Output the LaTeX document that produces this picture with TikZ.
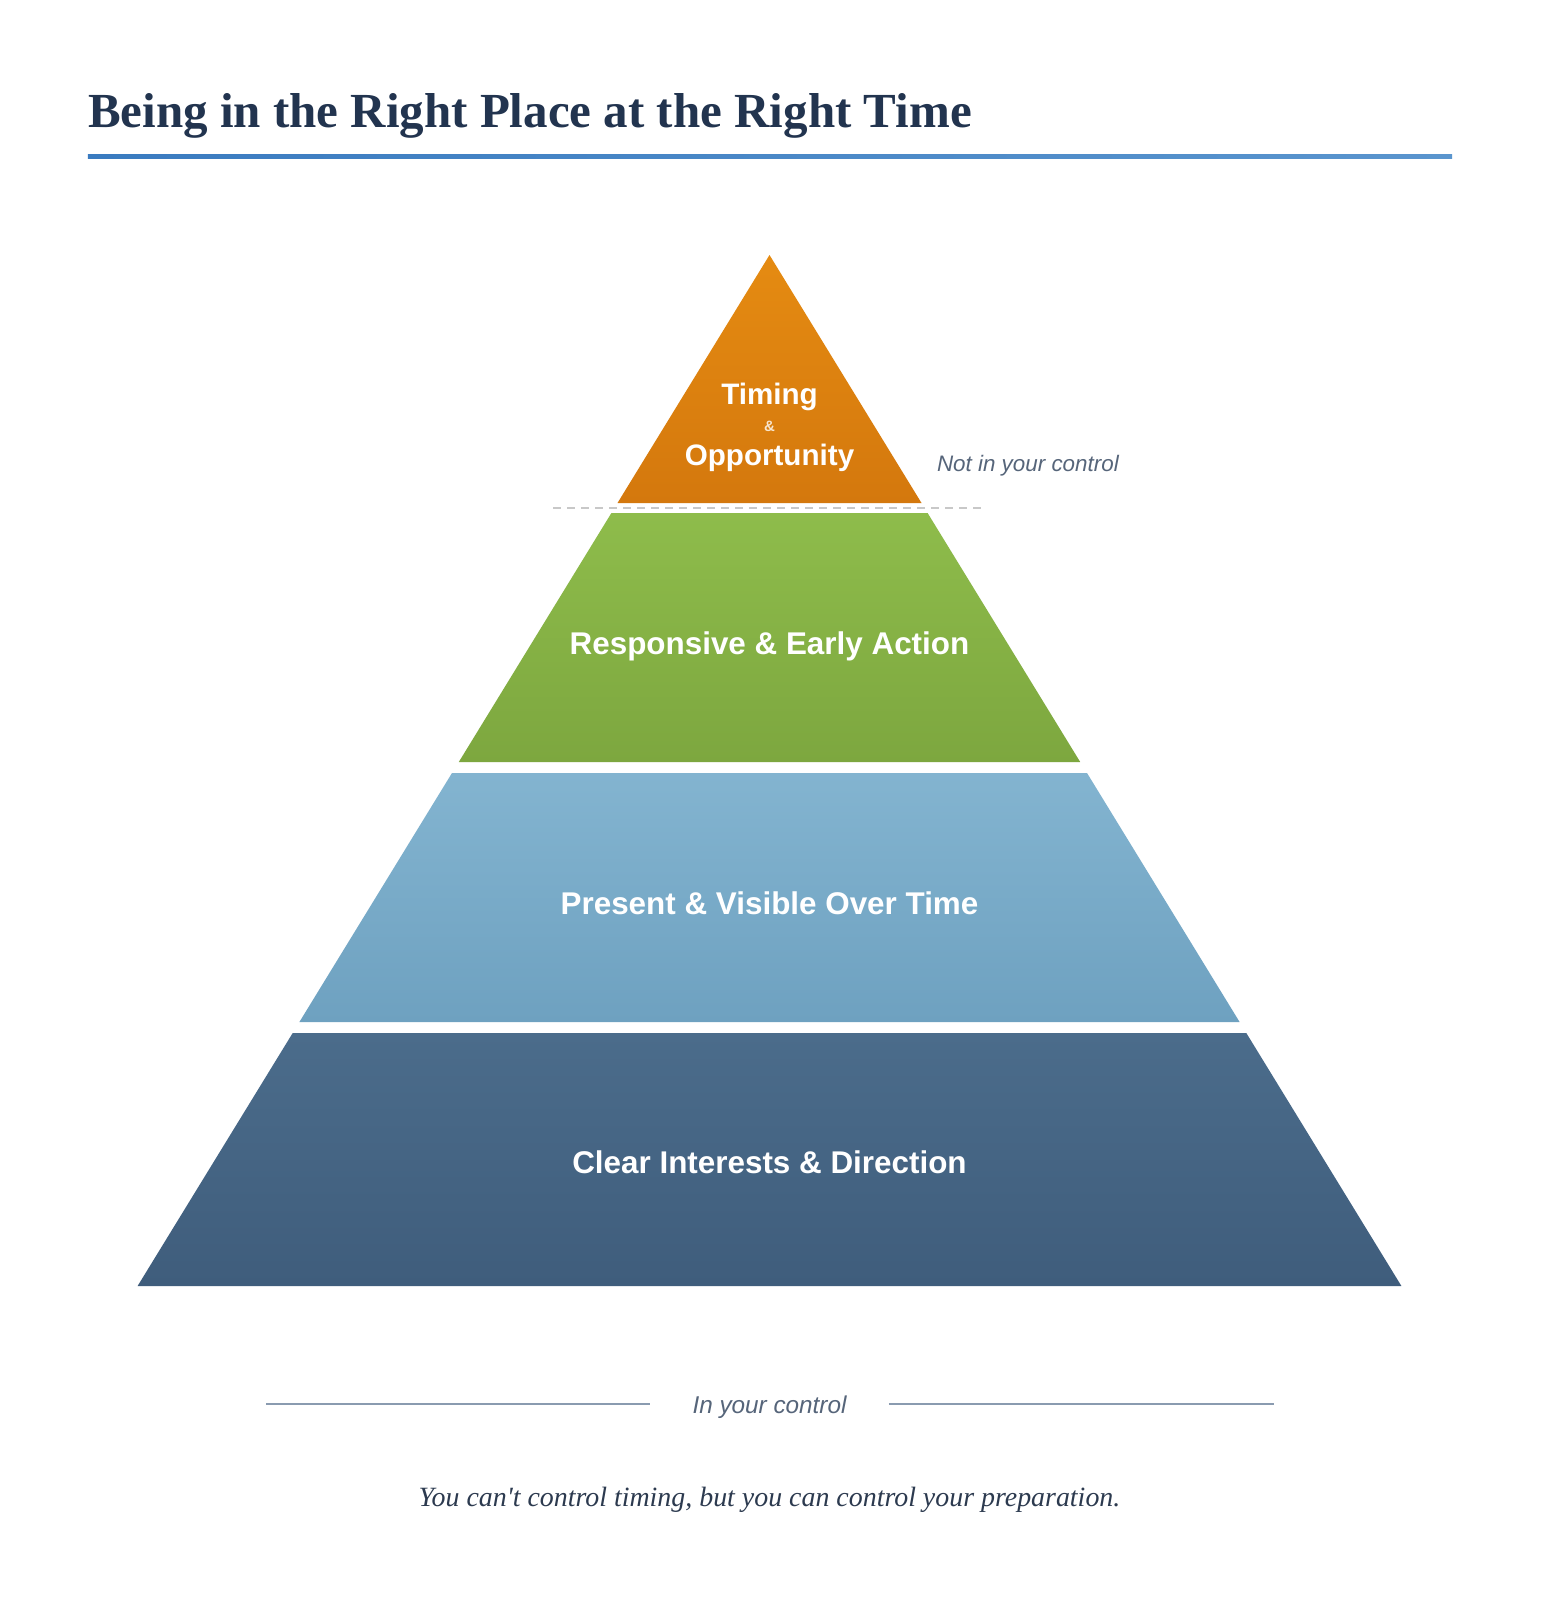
\documentclass[tikz,border=0pt]{standalone}
\usepackage{fontspec}
\setmainfont{Liberation Serif}
\newfontfamily\lsans{Liberation Sans}
\newfontfamily\qfont{Liberation Serif}[Ligatures=TeXOff]
\usetikzlibrary{calc}
\definecolor{titlecol}{HTML}{22344F}
\definecolor{ruleL}{HTML}{3A7BC0}
\definecolor{ruleR}{HTML}{5A95CE}
\definecolor{orT}{HTML}{E58B12}
\definecolor{orB}{HTML}{D4780D}
\definecolor{grT}{HTML}{8EBC4B}
\definecolor{grB}{HTML}{7DA73F}
\definecolor{lbT}{HTML}{83B4D0}
\definecolor{lbB}{HTML}{6EA1C0}
\definecolor{dbT}{HTML}{4B6C8B}
\definecolor{dbB}{HTML}{3F5D7C}
\definecolor{notecol}{HTML}{56657A}
\definecolor{sepcol}{HTML}{8A9BB0}
\definecolor{quotecol}{HTML}{2C3A4F}
\definecolor{dashcol}{HTML}{C8C8C8}
\tikzset{
  lvltext/.style={text=white, font=\lsans\bfseries\fontsize{31.4}{36}\selectfont, anchor=base, inner sep=0pt},
  toptext/.style={text=white, font=\lsans\bfseries\fontsize{29.6}{34}\selectfont, anchor=base, inner sep=0pt},
  note/.style={text=notecol, font=\lsans\itshape\fontsize{22.4}{26}\selectfont, inner sep=0pt},
}
\begin{document}
\begin{tikzpicture}[x=1pt,y=-1pt]
\useasboundingbox (0,0) rectangle (1540,1600);
\fill[white] (0,0) rectangle (1540,1600);
% title
\node[anchor=base west, inner sep=0pt, text=titlecol, font=\bfseries\fontsize{49}{56}\selectfont] (title) at (87.8,127.6) {Being in the Right Place at the Right Time};
\shade[left color=ruleL, right color=ruleR] (87.8,154.1) rectangle (1452.2,158.1);
% pyramid layers
\shade[top color=orT, bottom color=orB] (769.5,255) -- (921.5,503) -- (617.5,503) -- cycle;
\shade[top color=grT, bottom color=grB] (611.4,513) -- (927.6,513) -- (1080.2,762) -- (458.8,762) -- cycle;
\shade[top color=lbT, bottom color=lbB] (452.0,773) -- (1087.0,773) -- (1239.6,1022) -- (299.4,1022) -- cycle;
\shade[top color=dbT, bottom color=dbB] (292.7,1033) -- (1246.3,1033) -- (1401.4,1286) -- (137.6,1286) -- cycle;
% dashed separator
\coordinate (dashL) at (553,507.8);
\coordinate (dashR) at (982,507.8);
\draw[dashcol, line width=1.5pt, dash pattern=on 8pt off 6pt] (dashL) -- (dashR);
% texts
\node[toptext] (tim) at (769.5,404) {Timing};
\node[text=white, opacity=0.8, font=\lsans\bfseries\fontsize{15}{17}\selectfont, inner sep=0pt] (amp) at (769.5,426.6) {\&};
\node[toptext] (opp) at (769.5,465) {Opportunity};
\node[note, anchor=base west] (notin) at (936.8,471.5) {Not in your control};
\node[lvltext] (resp) at (769.5,654) {Responsive \& Early Action};
\node[lvltext] (pres) at (769.5,914) {Present \& Visible Over Time};
\node[lvltext] (clear) at (769.5,1173.6) {Clear Interests \& Direction};
% in your control
\node[note, anchor=base, font=\lsans\itshape\fontsize{24.3}{28}\selectfont] (inctl) at (769.5,1413) {In your control};
\coordinate (lineLa) at (266.4,1404.2);
\coordinate (lineLb) at (650,1404.2);
\coordinate (lineRa) at (888.9,1404.2);
\coordinate (lineRb) at (1273.6,1404.2);
\draw[sepcol, line width=1.5pt] (lineLa) -- (lineLb);
\draw[sepcol, line width=1.5pt] (lineRa) -- (lineRb);
% quote
\node[anchor=base, inner sep=0pt, text=quotecol, font=\qfont\itshape\fontsize{27.9}{32}\selectfont] (quote) at (769.5,1506) {You can't control timing, but you can control your preparation.};
\end{tikzpicture}
\end{document}
